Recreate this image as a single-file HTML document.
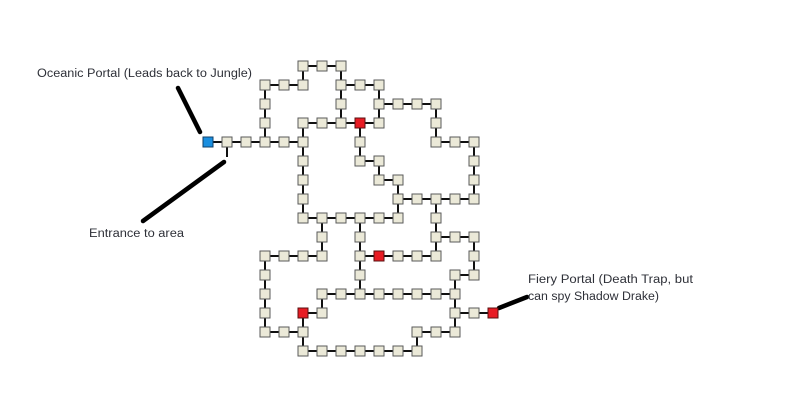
<!DOCTYPE html>
<html><head><meta charset="utf-8"><style>
html,body{margin:0;padding:0;background:#fff;width:800px;height:409px;overflow:hidden}
svg{display:block}
text{font-family:"Liberation Sans",sans-serif;font-size:11.5px;fill:#2e3038}
</style></head><body>
<svg width="800" height="409" viewBox="0 0 800 409">
<defs><rect id="n" x="-5" y="-5" width="10" height="10" fill="#ebe9d8" stroke="#5a5a5a" stroke-width="1"/></defs>
<g stroke="#111" stroke-width="2" fill="none">
<path d="M303 66H341M265 85H303M341 85H379M379 104H436M303 123H379M208 142H303M436 142H474M360 161H379M379 180H398M398 199H474M303 218H398M436 237H474M265 256H322M360 256H436M455 275H474M322 294H455M303 313H322M455 313H493M265 332H303M417 332H455M303 351H417"/>
<path d="M265 85V142M265 256V332M303 66V85M303 123V218M303 313V351M322 218V256M322 294V313M341 66V123M360 123V161M360 218V294M379 85V123M379 161V180M398 180V218M417 332V351M436 104V142M436 199V256M455 275V332M474 142V199M474 237V275M227 142V157"/>
</g>
<g stroke="#000" stroke-width="4.5" stroke-linecap="round">
<line x1="178" y1="88" x2="200" y2="132"/>
<line x1="224" y1="162" x2="143" y2="221"/>
<line x1="499" y1="308" x2="527" y2="297"/>
</g>
<g>
<use href="#n" x="303" y="66"/><use href="#n" x="322" y="66"/><use href="#n" x="341" y="66"/>
<use href="#n" x="265" y="85"/><use href="#n" x="284" y="85"/><use href="#n" x="303" y="85"/><use href="#n" x="341" y="85"/><use href="#n" x="360" y="85"/><use href="#n" x="379" y="85"/>
<use href="#n" x="265" y="104"/><use href="#n" x="341" y="104"/><use href="#n" x="379" y="104"/><use href="#n" x="398" y="104"/><use href="#n" x="417" y="104"/><use href="#n" x="436" y="104"/>
<use href="#n" x="265" y="123"/><use href="#n" x="303" y="123"/><use href="#n" x="322" y="123"/><use href="#n" x="341" y="123"/><use href="#n" x="379" y="123"/><use href="#n" x="436" y="123"/>
<use href="#n" x="227" y="142"/><use href="#n" x="246" y="142"/><use href="#n" x="265" y="142"/><use href="#n" x="284" y="142"/><use href="#n" x="303" y="142"/><use href="#n" x="360" y="142"/><use href="#n" x="436" y="142"/><use href="#n" x="455" y="142"/><use href="#n" x="474" y="142"/>
<use href="#n" x="303" y="161"/><use href="#n" x="360" y="161"/><use href="#n" x="379" y="161"/><use href="#n" x="474" y="161"/>
<use href="#n" x="303" y="180"/><use href="#n" x="379" y="180"/><use href="#n" x="398" y="180"/><use href="#n" x="474" y="180"/>
<use href="#n" x="303" y="199"/><use href="#n" x="398" y="199"/><use href="#n" x="417" y="199"/><use href="#n" x="436" y="199"/><use href="#n" x="455" y="199"/><use href="#n" x="474" y="199"/>
<use href="#n" x="303" y="218"/><use href="#n" x="322" y="218"/><use href="#n" x="341" y="218"/><use href="#n" x="360" y="218"/><use href="#n" x="379" y="218"/><use href="#n" x="398" y="218"/><use href="#n" x="436" y="218"/>
<use href="#n" x="322" y="237"/><use href="#n" x="360" y="237"/><use href="#n" x="436" y="237"/><use href="#n" x="455" y="237"/><use href="#n" x="474" y="237"/>
<use href="#n" x="265" y="256"/><use href="#n" x="284" y="256"/><use href="#n" x="303" y="256"/><use href="#n" x="322" y="256"/><use href="#n" x="360" y="256"/><use href="#n" x="398" y="256"/><use href="#n" x="417" y="256"/><use href="#n" x="436" y="256"/><use href="#n" x="474" y="256"/>
<use href="#n" x="265" y="275"/><use href="#n" x="360" y="275"/><use href="#n" x="455" y="275"/><use href="#n" x="474" y="275"/>
<use href="#n" x="265" y="294"/><use href="#n" x="322" y="294"/><use href="#n" x="341" y="294"/><use href="#n" x="360" y="294"/><use href="#n" x="379" y="294"/><use href="#n" x="398" y="294"/><use href="#n" x="417" y="294"/><use href="#n" x="436" y="294"/><use href="#n" x="455" y="294"/>
<use href="#n" x="265" y="313"/><use href="#n" x="322" y="313"/><use href="#n" x="455" y="313"/><use href="#n" x="474" y="313"/>
<use href="#n" x="265" y="332"/><use href="#n" x="284" y="332"/><use href="#n" x="303" y="332"/><use href="#n" x="417" y="332"/><use href="#n" x="436" y="332"/><use href="#n" x="455" y="332"/>
<use href="#n" x="303" y="351"/><use href="#n" x="322" y="351"/><use href="#n" x="341" y="351"/><use href="#n" x="360" y="351"/><use href="#n" x="379" y="351"/><use href="#n" x="398" y="351"/><use href="#n" x="417" y="351"/>
</g>
<g stroke="#5a1010" stroke-width="1" fill="#e81c24">
<rect x="355" y="118" width="10" height="10"/>
<rect x="374" y="251" width="10" height="10"/>
<rect x="298" y="308" width="10" height="10"/>
<rect x="488" y="308" width="10" height="10"/>
</g>
<rect x="203" y="137" width="10" height="10" fill="#1a8fe0" stroke="#10406a" stroke-width="1"/>
<text x="37" y="77" textLength="215" lengthAdjust="spacingAndGlyphs">Oceanic Portal (Leads back to Jungle)</text>
<text x="89" y="237" textLength="95" lengthAdjust="spacingAndGlyphs">Entrance to area</text>
<text x="528" y="283" textLength="165" lengthAdjust="spacingAndGlyphs">Fiery Portal (Death Trap, but</text>
<text x="528" y="300" textLength="131" lengthAdjust="spacingAndGlyphs">can spy Shadow Drake)</text>
</svg>
</body></html>
